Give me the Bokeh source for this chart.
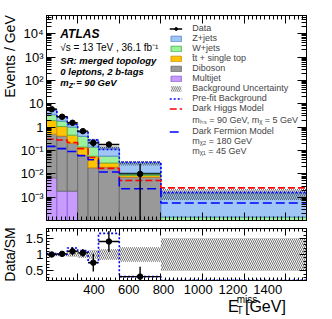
import numpy as np
from bokeh.plotting import figure
from bokeh.models import (Range1d, FixedTicker, LinearAxis, LogAxis, CustomJSTickFormatter,
                          Label, Legend, LegendItem)
from bokeh.layouts import column, row
from bokeh.embed import file_html
from bokeh.resources import INLINE

# ---------------- data (events / GeV) ----------------
edges = [250, 300, 350, 400, 450, 500, 600, 800, 1500]
multijet = [0.0067, 0.0018, 0.0018, 0.0, 0.0, 0.0, 0.0, 0.0]
diboson = [0.49, 0.41, 0.20, 0.060, 0.018, 0.019, 0.0072, 0.00006]
ttbar = [1.4, 0.64, 0.25, 0.080, 0.039, 0.010, 0.0013, 0.00003]
wjets = [1.5, 0.75, 0.55, 0.26, 0.083, 0.028, 0.0025, 0.00005]
zjets = [2.2, 1.0, 0.40, 0.24, 0.14, 0.073, 0.018, 0.00136]
bkg_unc = [0.05, 0.05, 0.07, 0.10, 0.13, 0.16, 0.22, 0.50]
prefit = [5.7, 2.8, 1.3, 0.60, 0.28, 0.11, 0.031, 0.0016]
dark_higgs = [0.3, 0.28, 0.22, 0.12, 0.05, 0.017, 0.0052, 0.0025]
dark_fermion = [0.15, 0.12, 0.09, 0.06, 0.04, 0.012, 0.0023, 0.00056]
data = [5.8, 2.77, 1.53, 0.67, 0.21, 0.18, 0.0099]
data_lo = [5.45, 2.53, 1.36, 0.55, 0.145, 0.14, 0.0001]
data_hi = [6.15, 3.0, 1.7, 0.79, 0.275, 0.22, 0.026]
ratio = [1.0, 1.02, 1.1, 1.05, 0.75, 1.4, 0.32]
ratio_lo = [0.94, 0.94, 0.98, 0.93, 0.48, 1.08, 0.0]
ratio_hi = [1.06, 1.1, 1.22, 1.17, 1.02, 1.72, 0.62]
ratio_prefit = [1.03, 1.0, 1.2, 1.12, 0.75, 1.65, 0.32, 0.21]
x_ticks = [400, 600, 800, 1000, 1200, 1400]
ratio_ticks = [0.5, 1.0, 1.5]

FONT = "Liberation Sans"
X0, X1 = 250, 1500
Y0, Y1 = 1e-4, 6e4
R0, R1 = 0.2, 1.8
FW, FH, RH = 263, 205, 52
FL, FT = 43, 15          # page position of main frame
STRIP = 17               # width of left title strip
PAGE_W, PAGE_H = 332, 319
MAIN_H, RATIO_H = 224, 58
SB_TOP = MAIN_H + RATIO_H

left = np.array(edges[:-1], float)
right = np.array(edges[1:], float)
centers = (left + right) / 2
nd = len(data)

def gx(px):
    return X0 + (px - FL) * (X1 - X0) / FW

def gy(py):
    l0, l1 = np.log10(Y0), np.log10(Y1)
    return 10 ** (l1 - (py - FT) / FH * (l1 - l0))

sup_js = """
const e = Math.round(Math.log10(tick));
if (e == 0) return "1";
if (e == 1) return "10";
const m = {"-":"\u207b","0":"\u2070","1":"\u00b9","2":"\u00b2","3":"\u00b3","4":"\u2074","5":"\u2075","6":"\u2076","7":"\u2077","8":"\u2078","9":"\u2079"};
return "10" + String(e).split("").map(c => m[c]).join("");
"""

def style_axis(ax, major_in=8, minor_in=4, labels=True, size="13px"):
    ax.major_tick_in = major_in
    ax.major_tick_out = 0
    ax.minor_tick_in = minor_in
    ax.minor_tick_out = 0
    ax.axis_line_color = "black"
    ax.major_tick_line_color = "black"
    ax.minor_tick_line_color = "black"
    ax.major_label_text_font = FONT
    ax.major_label_text_color = "black"
    if labels:
        ax.major_label_text_font_size = size
        ax.major_label_standoff = 3
    else:
        ax.major_label_text_font_size = "1px"
        ax.major_label_text_alpha = 0
        ax.major_label_standoff = 0

def txt(fig, x, y, text, size, style="normal", align="left", baseline="middle", angle=0):
    fig.add_layout(Label(x=x, y=y, text=text, text_font=FONT, text_font_size=size,
                         text_font_style=style, text_align=align, text_baseline=baseline,
                         angle=angle, text_color="black"))

def blank_fig(w, h, xr, yr):
    f = figure(width=w, height=h, x_range=xr, y_range=yr,
               output_backend="svg", toolbar_location=None, x_axis_location=None,
               y_axis_location=None, min_border=0)
    f.outline_line_color = None
    f.xgrid.visible = False
    f.ygrid.visible = False
    return f

x_minor = list(range(260, 1500, 20))
dec_major = [10.0 ** e for e in range(-3, 5)]
dec_minor = [k * 10.0 ** e for e in range(-4, 5) for k in range(2, 10)]

# ---------------- main panel ----------------
p = figure(width=PAGE_W - STRIP, height=MAIN_H, x_range=Range1d(X0, X1), y_range=Range1d(Y0, Y1),
           y_axis_type="log", output_backend="svg", toolbar_location=None,
           min_border_left=FL - STRIP, min_border_right=26, min_border_top=FT, min_border_bottom=4)
p.xgrid.visible = False
p.ygrid.visible = False
p.outline_line_color = "black"

p.xaxis.ticker = FixedTicker(ticks=x_ticks, minor_ticks=x_minor)
style_axis(p.xaxis[0], labels=False)
p.yaxis.ticker = FixedTicker(ticks=dec_major, minor_ticks=dec_minor)
p.yaxis.formatter = CustomJSTickFormatter(code=sup_js)
style_axis(p.yaxis[0], major_in=9, minor_in=5)
ax_top = LinearAxis(ticker=FixedTicker(ticks=x_ticks, minor_ticks=x_minor))
style_axis(ax_top, labels=False)
p.add_layout(ax_top, "above")
ax_right = LogAxis(ticker=FixedTicker(ticks=dec_major, minor_ticks=dec_minor))
style_axis(ax_right, major_in=9, minor_in=5, labels=False)
p.add_layout(ax_right, "right")

layers = [("Multijet", multijet, "#c89bff", "#8a5cd6"),
          ("Diboson", diboson, "#999999", "#666666"),
          ("ttbar", ttbar, "#ffc400", "#d08a00"),
          ("W+jets", wjets, "#9cf29c", "#44b044"),
          ("Z+jets", zjets, "#9fc6f5", "#4d7fd0")]
base = np.full(len(left), 1e-6)
layer_r = {}
for name, vals, fc, lc in layers:
    top = base + np.array(vals)
    layer_r[name] = p.quad(left=left, right=right, bottom=base, top=top,
                           fill_color=fc, line_color=lc, line_width=0.8)
    base = top
total = base
unc = np.array(bkg_unc)
r_unc = p.quad(left=left, right=right, bottom=total * (1 - unc), top=total * (1 + unc),
               fill_alpha=0, line_alpha=0, hatch_pattern="\\", hatch_color="#333333",
               hatch_scale=4, hatch_weight=0.7)

def stepvals(v):
    return list(v) + [v[-1]]

r_pre = p.step(x=edges, y=stepvals(prefit), mode="after", line_color="#0000ff",
               line_dash="2 2", line_width=1.6)
r_dh = p.step(x=edges, y=stepvals(dark_higgs), mode="after", line_color="#ff0000",
              line_dash="7 3", line_width=1.6)
r_df = p.step(x=edges, y=stepvals(dark_fermion), mode="after", line_color="#0000ff",
              line_dash="9 4", line_width=1.6)

p.segment(x0=left[:nd], x1=right[:nd], y0=data, y1=data, line_color="black", line_width=1.4)
p.segment(x0=centers[:nd], x1=centers[:nd], y0=data_lo, y1=data_hi, line_color="black", line_width=1.4)
r_data = p.scatter(x=centers[:nd], y=data, size=5.5, marker="circle", fill_color="black", line_color="black")
r_dline = p.line(x=[X0, X0], y=[Y0, Y0], line_color="black", line_width=1.4)
r_blank = p.line(x=[X0, X0], y=[Y0, Y0], line_alpha=0)

items = [LegendItem(label="Data", renderers=[r_dline, r_data]),
         LegendItem(label="Z+jets", renderers=[layer_r["Z+jets"]]),
         LegendItem(label="W+jets", renderers=[layer_r["W+jets"]]),
         LegendItem(label="t\u0304t + single top", renderers=[layer_r["ttbar"]]),
         LegendItem(label="Diboson", renderers=[layer_r["Diboson"]]),
         LegendItem(label="Multijet", renderers=[layer_r["Multijet"]]),
         LegendItem(label="Background Uncertainty", renderers=[r_unc]),
         LegendItem(label="Pre-fit Background", renderers=[r_pre]),
         LegendItem(label="Dark Higgs Model", renderers=[r_dh]),
         LegendItem(label="m\u2095\u209b = 90 GeV, m\u1d6a = 5 GeV", renderers=[r_blank]),
         LegendItem(label="Dark Fermion Model", renderers=[r_df]),
         LegendItem(label="m\u1d6a\u2082 = 180 GeV", renderers=[r_blank]),
         LegendItem(label="m\u1d6a\u2081 = 45 GeV", renderers=[r_blank])]
leg = Legend(items=items, location="top_right", label_text_font=FONT, label_text_font_size="9px",
             glyph_width=13, glyph_height=7, label_height=9, label_standoff=10, spacing=0,
             padding=0, margin=8, border_line_alpha=0, background_fill_alpha=0)
p.add_layout(leg)

txt(p, gx(57), gy(33), "ATLAS", "12px", "bold italic")
txt(p, gx(57), gy(47), "\u221as = 13 TeV , 36.1 fb\u207b\u00b9", "10px")
txt(p, gx(57), gy(60), "SR: merged topology", "9.5px", "bold italic")
txt(p, gx(57), gy(71), "0 leptons, 2 b-tags", "9.5px", "bold italic")
txt(p, gx(57), gy(82), "m", "9.5px", "bold italic")
txt(p, gx(65.5), gy(85), "Z'", "7px", "bold italic")
txt(p, gx(73), gy(82), "= 90 GeV", "9.5px", "bold italic")

# ---------------- ratio panel ----------------
p2 = figure(width=PAGE_W - STRIP, height=RATIO_H, x_range=p.x_range, y_range=Range1d(R0, R1),
            output_backend="svg", toolbar_location=None,
            min_border_left=FL - STRIP, min_border_right=26, min_border_top=4,
            min_border_bottom=RATIO_H - 4 - RH)
p2.xgrid.visible = False
p2.ygrid.visible = False
p2.outline_line_color = "black"
p2.xaxis.ticker = FixedTicker(ticks=x_ticks, minor_ticks=x_minor)
style_axis(p2.xaxis[0], major_in=7, minor_in=3, labels=False)
r_minor = [round(0.2 + 0.1 * i, 2) for i in range(17)]
p2.yaxis.ticker = FixedTicker(ticks=ratio_ticks, minor_ticks=r_minor)
p2.yaxis.formatter = CustomJSTickFormatter(code="return String(Math.round(tick*10)/10);")
style_axis(p2.yaxis[0], major_in=7, minor_in=3)
a2t = LinearAxis(ticker=FixedTicker(ticks=x_ticks, minor_ticks=x_minor))
style_axis(a2t, major_in=7, minor_in=3, labels=False)
p2.add_layout(a2t, "above")
a2r = LinearAxis(ticker=FixedTicker(ticks=ratio_ticks, minor_ticks=r_minor))
style_axis(a2r, major_in=7, minor_in=3, labels=False)
p2.add_layout(a2r, "right")

p2.quad(left=left, right=right, bottom=1 - unc, top=1 + unc, fill_alpha=0, line_alpha=0,
        hatch_pattern="\\", hatch_color="#333333", hatch_scale=4, hatch_weight=0.7)
p2.step(x=edges, y=stepvals(ratio_prefit), mode="after", line_color="#0000ff",
        line_dash="2 2", line_width=1.6)
p2.segment(x0=left[:nd], x1=right[:nd], y0=ratio, y1=ratio, line_color="black", line_width=1.4)
p2.segment(x0=centers[:nd], x1=centers[:nd], y0=ratio_lo, y1=ratio_hi, line_color="black", line_width=1.4)
p2.scatter(x=centers[:nd], y=ratio, size=5.5, marker="circle", fill_color="black", line_color="black")

# ---------------- title strips (y given as distance up from page bottom) ----------------
strip_left = blank_fig(STRIP, PAGE_H, Range1d(0, STRIP), Range1d(0, PAGE_H))
txt(strip_left, 9.5, PAGE_H - 56, "Events / GeV", "14px", align="center", baseline="middle", angle=np.pi / 2)
txt(strip_left, 9.5, PAGE_H - 254, "Data/SM", "14px", align="center", baseline="middle", angle=np.pi / 2)

# bottom strip shares the GeV scale of the panels (x range extended to the strip edges)
strip_bot = blank_fig(PAGE_W - STRIP, PAGE_H - SB_TOP, Range1d(gx(STRIP), gx(PAGE_W)),
                      Range1d(0, PAGE_H - SB_TOP))
for t in x_ticks:
    txt(strip_bot, t, PAGE_H - 289, str(t), "13px", align="center", baseline="middle")
txt(strip_bot, gx(237), PAGE_H - 306, "E", "16px", baseline="alphabetic")
txt(strip_bot, gx(247.5), PAGE_H - 310, "T", "10px", baseline="alphabetic")
txt(strip_bot, gx(247.5), PAGE_H - 298.5, "miss", "10px", baseline="alphabetic")
txt(strip_bot, gx(307), PAGE_H - 306, "[GeV]", "16px", align="right", baseline="alphabetic")

lay = row(strip_left, column(p, p2, strip_bot))
open("out.html", "w").write(file_html(lay, INLINE))
